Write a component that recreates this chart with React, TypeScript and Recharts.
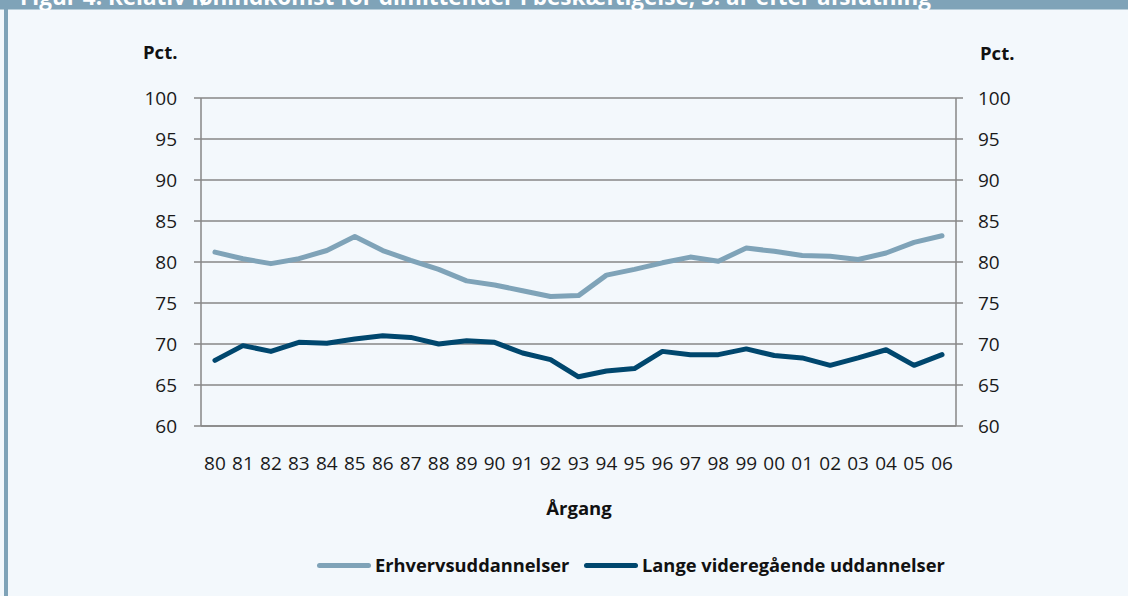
import React from 'react';
import { LineChart, Line, XAxis, YAxis, CartesianGrid } from 'recharts';

const years = ['80','81','82','83','84','85','86','87','88','89','90','91','92','93','94','95','96','97','98','99','00','01','02','03','04','05','06'];
const erhverv = [81.2, 80.4, 79.8, 80.4, 81.4, 83.1, 81.4, 80.2, 79.1, 77.7, 77.2, 76.5, 75.8, 75.9, 78.4, 79.1, 79.9, 80.6, 80.1, 81.7, 81.3, 80.8, 80.7, 80.3, 81.1, 82.4, 83.2];
const lange = [68.0, 69.8, 69.1, 70.2, 70.1, 70.6, 71.0, 70.8, 70.0, 70.4, 70.2, 68.9, 68.1, 66.0, 66.7, 67.0, 69.1, 68.7, 68.7, 69.4, 68.6, 68.3, 67.4, 68.3, 69.3, 67.4, 68.7];
const yTicks = [60, 65, 70, 75, 80, 85, 90, 95, 100];
const seriesNames = ['Erhvervsuddannelser', 'Lange videregående uddannelser'];
const seriesColors = ['#7fa3b8', '#00476e'];
const titleText = 'Figur 4. Relativ lønindkomst for dimittender i beskæftigelse, 5. år efter afslutning';
const yUnit = 'Pct.';
const xTitle = 'Årgang';

const FONT = '"Open Sans", "Noto Sans", sans-serif';
const GRID = '#878787';

export default function App() {
  const data = years.map((y, i) => ({ year: y, erhverv: erhverv[i], lange: lange[i] }));
  const bounds = Array.from({ length: years.length + 1 }, (_, i) => i);
  const tickStyle = { fontSize: 19, fill: '#1a1a1a', fontFamily: FONT };
  return (
    <div style={{ position: 'absolute', left: 0, top: 0, width: 1128, height: 596, background: '#f3f8fc', overflow: 'hidden', fontFamily: FONT }}>
      <svg width={1128} height={10} style={{ position: 'absolute', left: 0, top: 0 }}>
        <rect x={0} y={0} width={1128} height={9.5} fill="#7fa3b8" />
        <text x={20} y={5} fill="#ffffff" fontWeight={700} fontSize={22.5} fontFamily={FONT}>{titleText}</text>
      </svg>
      <div style={{ position: 'absolute', left: 4, top: 0, width: 4.3, height: 596, background: '#7fa3b8' }} />
      <div style={{ position: 'absolute', left: 0, top: 0 }}>
        <LineChart width={1128} height={596} data={data} margin={{ top: 98, right: 72, bottom: 122, left: 0 }}>
          <CartesianGrid vertical={false} stroke={GRID} strokeWidth={1.5} xAxisId="cat" yAxisId="l" />
          <XAxis xAxisId="b" type="number" domain={[0, years.length]} ticks={bounds} allowDataOverflow
            tick={false} tickSize={8} height={8} stroke={GRID} strokeWidth={1.5} interval={0} />
          <XAxis xAxisId="cat" dataKey="year" scale="band" interval={0} tickLine={false} axisLine={false}
            tickSize={0} tickMargin={23} height={40} tick={tickStyle} />
          <YAxis yAxisId="l" domain={[60, 100]} ticks={yTicks} interval={0} width={201}
            tickSize={7} tickMargin={17} stroke={GRID} strokeWidth={1.5} tick={tickStyle} />
          <YAxis yAxisId="r" orientation="right" domain={[60, 100]} ticks={yTicks} interval={0} width={100}
            tickSize={7} tickMargin={15} stroke={GRID} strokeWidth={1.5} tick={{ ...tickStyle, textAnchor: 'start' }} allowDataOverflow />
          <Line xAxisId="cat" yAxisId="l" dataKey="erhverv" name={seriesNames[0]} stroke={seriesColors[0]} strokeWidth={5}
            dot={false} isAnimationActive={false} strokeLinejoin="round" strokeLinecap="round" />
          <Line xAxisId="cat" yAxisId="l" dataKey="lange" name={seriesNames[1]} stroke={seriesColors[1]} strokeWidth={5}
            dot={false} isAnimationActive={false} strokeLinejoin="round" strokeLinecap="round" />
        </LineChart>
      </div>
      <div style={{ position: 'absolute', left: 143, top: 40, fontSize: 18.5, fontWeight: 700, lineHeight: '24px', color: '#111' }}>{yUnit}</div>
      <div style={{ position: 'absolute', left: 980, top: 41, fontSize: 18.5, fontWeight: 700, lineHeight: '24px', color: '#111' }}>{yUnit}</div>
      <div style={{ position: 'absolute', left: 479, width: 200, textAlign: 'center', top: 496, fontSize: 18.5, fontWeight: 700, lineHeight: '24px', color: '#111' }}>{xTitle}</div>
      {seriesNames.map((n, i) => (
        <div key={n} style={{ position: 'absolute', left: i === 0 ? 317 : 584, top: 553, height: 24, display: 'flex', alignItems: 'center' }}>
          <span style={{ display: 'inline-block', width: 54, height: 5, borderRadius: 3, background: seriesColors[i], marginRight: 4 }} />
          <span style={{ fontSize: 18.3, fontWeight: 700, lineHeight: '24px', color: '#111', whiteSpace: 'nowrap' }}>{n}</span>
        </div>
      ))}
    </div>
  );
}
